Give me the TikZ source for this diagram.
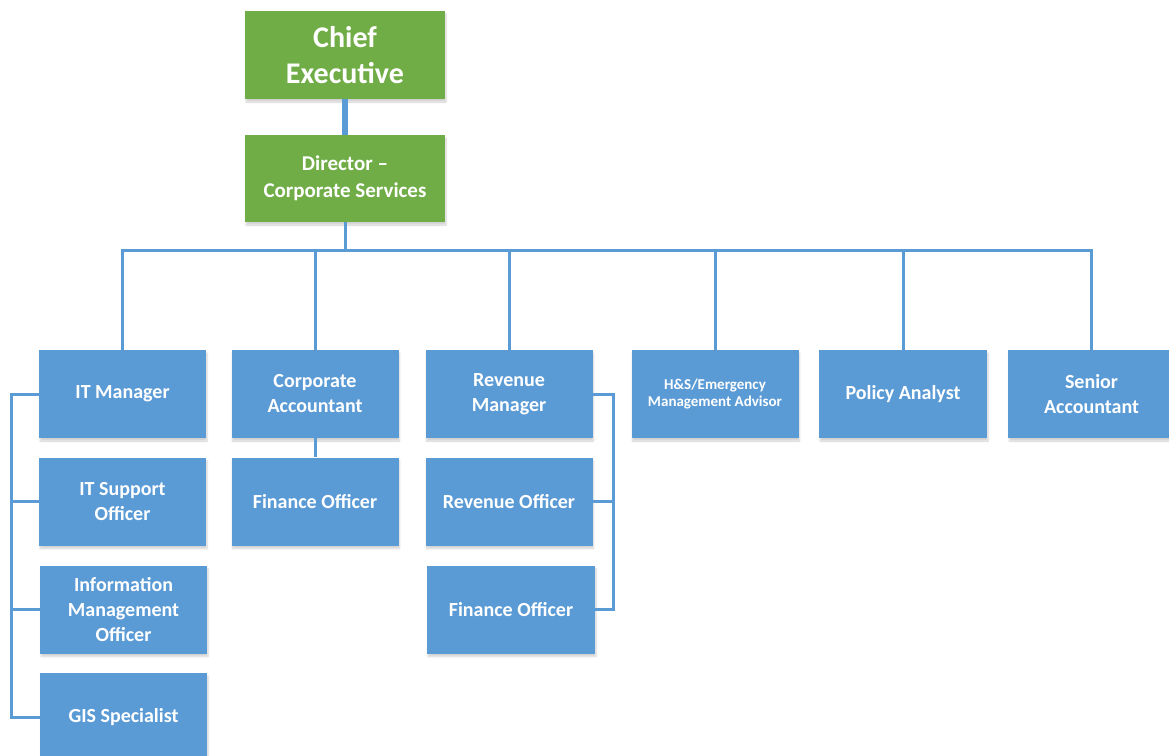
\documentclass[tikz,border=0pt]{standalone}
\usepackage{fontspec}
\setmainfont{Carlito}
\usetikzlibrary{shadows.blur}
\definecolor{boxblue}{HTML}{5B9BD5}
\definecolor{boxgreen}{HTML}{70AD47}
\definecolor{lineblue}{HTML}{5B9BD5}
\begin{document}
\begin{tikzpicture}[x=1pt,y=-1pt,
  unit/.style={rectangle, draw=none, text=white, align=center, inner sep=0pt,
    font=\bfseries\fontsize{20}{25}\selectfont,
    minimum width=167pt, minimum height=88pt,
    blur shadow={shadow xshift=1pt, shadow yshift=-3pt, shadow opacity=18, shadow blur steps=6}},
  bluebox/.style={unit, fill=boxblue},
  greenbox/.style={unit, fill=boxgreen, minimum width=200pt},
  conn/.style={draw=lineblue, line width=3pt},
  thickconn/.style={draw=lineblue, line width=6pt}]
\useasboundingbox (0,0) rectangle (1169,755);

% top of the hierarchy
\node[greenbox, font=\bfseries\fontsize{30}{36}\selectfont] (ce) at (345,55) {Chief\\Executive};
\node[greenbox, minimum height=87pt, font=\bfseries\fontsize{21}{27}\selectfont] (dir) at (345,178.5) {Director --\\Corporate Services};

% first row of reports
\node[bluebox] (itm)  at (122.5,394) {IT Manager};
\node[bluebox] (ca)   at (315,394) {Corporate\\Accountant};
\node[bluebox] (rm)   at (509,394) {Revenue\\Manager};
\node[bluebox, font=\bfseries\fontsize{15}{17.5}\selectfont] (hs) at (715,394) {H\&S/Emergency\\Management Advisor};
\node[bluebox, minimum width=168pt] (pa) at (903,394) {Policy Analyst};
\node[bluebox] (sa)   at (1091.5,394) {Senior\\Accountant};

% IT team
\node[bluebox] (itso) at (122.5,501.5) {IT Support\\Officer};
\node[bluebox] (imo)  at (123.5,609.5) {Information\\Management\\Officer};
\node[bluebox] (gis)  at (123.5,717) {GIS Specialist};

% finance and revenue teams
\node[bluebox] (fo1)  at (315,501.5) {Finance Officer};
\node[bluebox] (ro)   at (509,501.5) {Revenue Officer};
\node[bluebox, minimum width=168pt] (fo2) at (511,609.5) {Finance Officer};

% connectors
\draw[thickconn] (ce.south) -- (dir.north);
\coordinate (bus) at (345,250);
\draw[conn] (dir.south) -- (bus);
\draw[conn, line cap=rect] (itm.north) |- (bus) -| (sa.north);
\foreach \n in {ca,rm,hs,pa}
  \draw[conn] (\n.north) -- (\n.north |- bus);

\draw[conn] (itm.west) -- ++(-27,0) |- (gis.west);
\draw[conn] (itso.west) -- ++(-27,0);
\draw[conn] (imo.west) -- ++(-28,0);

\draw[conn] (ca.south) -- (fo1.north);

\draw[conn] (rm.east) -- ++(21,0) |- (fo2.east);
\draw[conn] (ro.east) -- ++(21,0);
\end{tikzpicture}
\end{document}
